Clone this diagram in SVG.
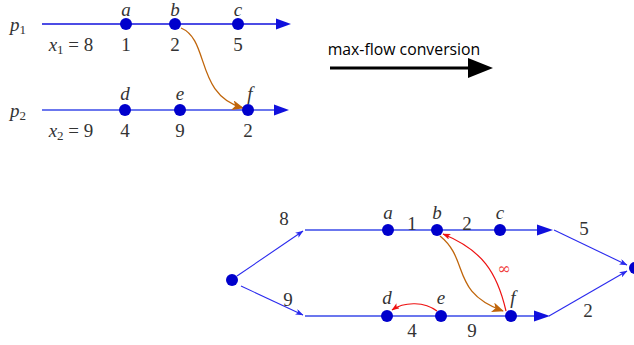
<svg xmlns="http://www.w3.org/2000/svg" width="634" height="345" viewBox="0 0 634 345">
<defs>
<style>
.t{font-family:"Liberation Serif","DejaVu Serif",serif;font-size:19px;fill:#333;text-anchor:middle}
.i{font-style:italic}
.ln{stroke:#1010dd;stroke-width:1.5;fill:none}
.ln2{stroke:#3a4ae8;stroke-width:1.5;fill:none}
.thin{stroke:#2a2aee;stroke-width:1.1;fill:none}
.nd{fill:#0000cc}
.or{stroke:#c0650a;stroke-width:1.3;fill:none}
.rd{stroke:#ee1111;stroke-width:1.2;fill:none}
</style>
<marker id="ob" viewBox="0 0 12 10" refX="11" refY="5" markerWidth="12" markerHeight="10" markerUnits="userSpaceOnUse" orient="auto"><path d="M0,0 L12,5 L0,10 L3,5 Z" fill="#c0650a"/></marker>
<marker id="rb" viewBox="0 0 8 6" refX="7.5" refY="3" markerWidth="8" markerHeight="6" markerUnits="userSpaceOnUse" orient="auto"><path d="M0,0 L8,3 L0,6 L2,3 Z" fill="#ee1111"/></marker>
<marker id="bs" viewBox="0 0 8 6" refX="7.5" refY="3" markerWidth="8" markerHeight="6" markerUnits="userSpaceOnUse" orient="auto"><path d="M0,0 L8,3 L0,6 L2,3 Z" fill="#2a2aee"/></marker>
</defs>

<g id="connectors">
<line class="ln" x1="42" y1="24" x2="280" y2="24"/>
<path d="M276,18.5 L291,24 L276,29.5 Z" fill="#1010dd"/>
<line class="ln2" x1="42" y1="110" x2="278" y2="110"/>
<path d="M274,104.5 L289,110 L274,115.5 Z" fill="#1010dd"/>
<path class="or" d="M181,28 C210,40 195,95 243,108" marker-end="url(#ob)"/>

<line x1="330" y1="68" x2="472" y2="68" stroke="#000" stroke-width="3"/>
<path d="M468,58 L493,68 L468,78 Z" fill="#000"/>

<line class="thin" x1="237" y1="276" x2="303" y2="231" marker-end="url(#bs)"/>
<line class="thin" x1="241" y1="286" x2="303" y2="315" marker-end="url(#bs)"/>
<line class="ln2" x1="305" y1="230" x2="542" y2="230"/>
<path d="M537,224.5 L553,230 L537,235.5 Z" fill="#1010dd"/>
<line class="ln2" x1="305" y1="316" x2="538" y2="316"/>
<path d="M534,310.5 L550,316 L534,321.5 Z" fill="#1010dd"/>
<line class="thin" x1="554" y1="230" x2="627" y2="265" marker-end="url(#bs)"/>
<line class="thin" x1="549" y1="316" x2="627" y2="271" marker-end="url(#bs)"/>
<path class="or" d="M440,236 C470,260 450,292 503,311" marker-end="url(#ob)"/>
<path class="rd" d="M506,311 C497,272 482,250 443,234" marker-end="url(#rb)"/>
<path class="rd" d="M437,311 C425,302 405,301 392,310" marker-end="url(#rb)"/>
</g>

<g id="labels-top">
<text class="t i" x="18" y="31">p<tspan font-size="13" font-style="normal" dy="3">1</tspan></text>
<text class="t i" x="18" y="117">p<tspan font-size="13" font-style="normal" dy="3">2</tspan></text>
<text class="t" x="71" y="51"><tspan font-style="italic">x</tspan><tspan font-size="13" dy="3">1</tspan><tspan dy="-3"> = 8</tspan></text>
<text class="t" x="71" y="137"><tspan font-style="italic">x</tspan><tspan font-size="13" dy="3">2</tspan><tspan dy="-3"> = 9</tspan></text>
</g>

<g id="n-a"><circle class="nd" cx="126" cy="24" r="6"/><text class="t i" x="126" y="16" font-size="16">a</text><text class="t" x="126" y="51">1</text></g>
<g id="n-b"><circle class="nd" cx="175" cy="24" r="6"/><text class="t i" x="175" y="16" font-size="16">b</text><text class="t" x="175" y="51">2</text></g>
<g id="n-c"><circle class="nd" cx="238" cy="24" r="6"/><text class="t i" x="238" y="16" font-size="16">c</text><text class="t" x="238" y="51">5</text></g>
<g id="n-d"><circle class="nd" cx="125" cy="110" r="6"/><text class="t i" x="125" y="100">d</text><text class="t" x="125" y="137">4</text></g>
<g id="n-e"><circle class="nd" cx="180" cy="110" r="6"/><text class="t i" x="180" y="100">e</text><text class="t" x="180" y="137">9</text></g>
<g id="n-f"><circle class="nd" cx="248" cy="110" r="6"/><text class="t i" x="250" y="100">f</text><text class="t" x="248" y="137">2</text></g>

<g id="conversion"><text x="404" y="55" font-family="Open Sans,Noto Sans,sans-serif" font-size="15.8" fill="#000" text-anchor="middle">max-flow conversion</text></g>

<g id="g-source"><circle class="nd" cx="232" cy="280" r="6"/></g>
<g id="g-sink"><circle class="nd" cx="635" cy="268" r="6"/></g>
<g id="g-a"><circle class="nd" cx="388" cy="230" r="6"/><text class="t i" x="388" y="219">a</text></g>
<g id="g-b"><circle class="nd" cx="437" cy="230" r="6"/><text class="t i" x="437" y="219">b</text></g>
<g id="g-c"><circle class="nd" cx="500" cy="230" r="6"/><text class="t i" x="500" y="219">c</text></g>
<g id="g-d"><circle class="nd" cx="387" cy="316" r="6"/><text class="t i" x="387" y="304">d</text></g>
<g id="g-e"><circle class="nd" cx="441" cy="316" r="6"/><text class="t i" x="441" y="304">e</text></g>
<g id="g-f"><circle class="nd" cx="511" cy="316" r="6"/><text class="t i" x="513" y="304">f</text></g>

<g id="edge-labels">
<text class="t" x="284" y="225">8</text>
<text class="t" x="288" y="306">9</text>
<text class="t" x="412" y="230">1</text>
<text class="t" x="467" y="230">2</text>
<text class="t" x="412" y="337">4</text>
<text class="t" x="472" y="337">9</text>
<text class="t" x="584" y="235">5</text>
<text class="t" x="588" y="317">2</text>
<text x="504" y="274" font-family="DejaVu Serif,serif" font-size="16" fill="#f04040" text-anchor="middle">∞</text>
</g>
</svg>
